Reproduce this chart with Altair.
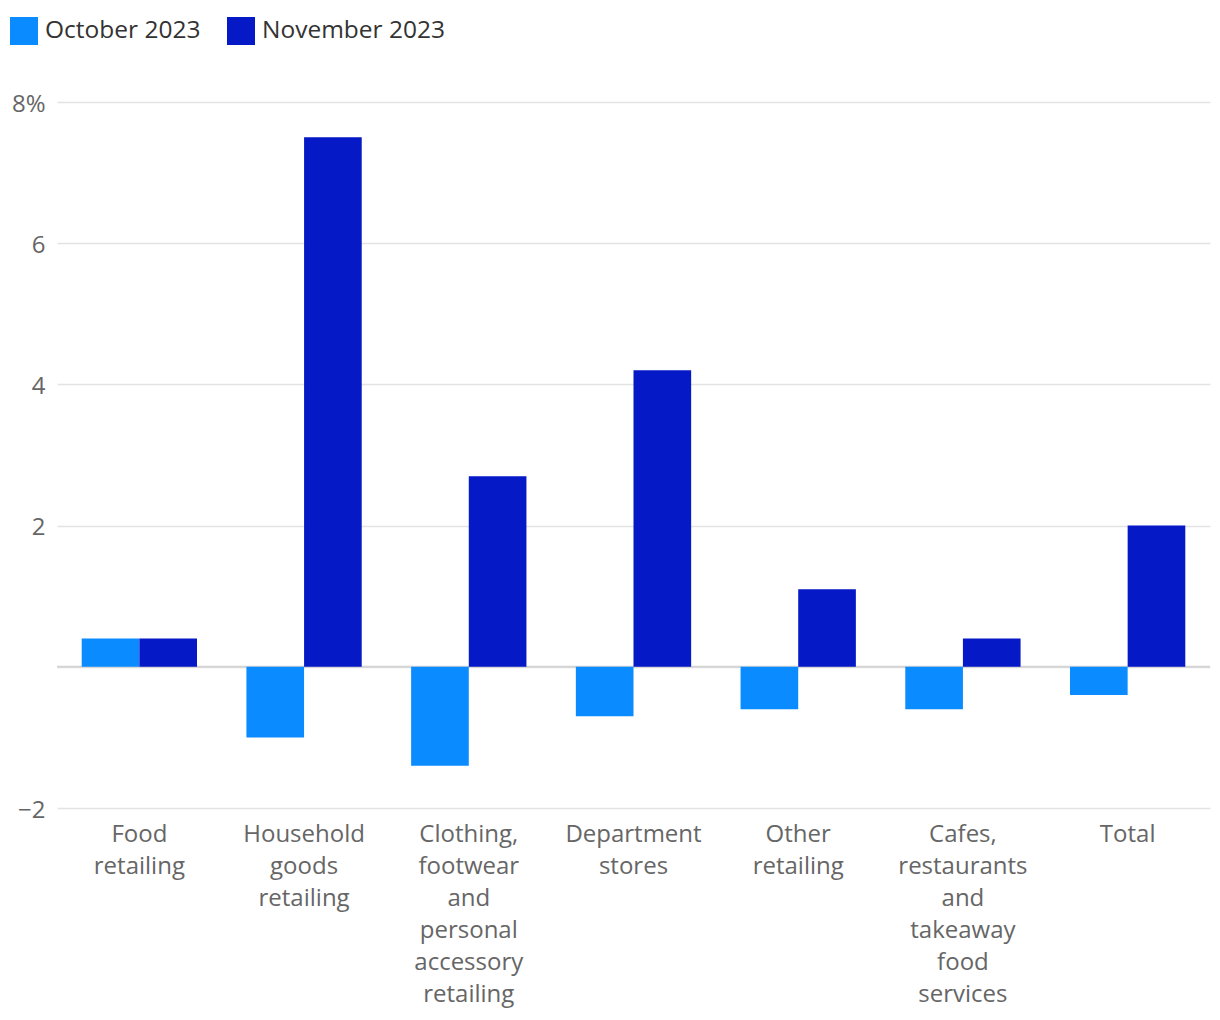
import altair as alt
import pandas as pd

categories = ["Food retailing", "Household goods retailing",
              "Clothing, footwear and personal accessory retailing",
              "Department stores", "Other retailing",
              "Cafes, restaurants and takeaway food services", "Total"]
series = ["October 2023", "November 2023"]
october = [0.4, -1.0, -1.4, -0.7, -0.6, -0.6, -0.4]
november = [0.4, 7.5, 2.7, 4.2, 1.1, 0.4, 2.0]
y_ticks = [-2, 0, 2, 4, 6, 8]
colors = ["#0A8BFF", "#0519C6"]

rows = []
for c, o, n in zip(categories, october, november):
    rows.append({"category": c, "series": series[0], "value": o})
    rows.append({"category": c, "series": series[1], "value": n})
df = pd.DataFrame(rows)

FONT = "Open Sans"

bars = alt.Chart(df).mark_bar().encode(
    x=alt.X("category:N", sort=categories, title=None,
            scale=alt.Scale(paddingInner=0.3, paddingOuter=0.15),
            axis=alt.Axis(labelAngle=0, labelExpr="split(datum.label, ' ')",
                          labelFontSize=24, labelColor="#666666", labelFont=FONT,
                          labelLineHeight=32, labelPadding=14, ticks=False,
                          domain=False, grid=False, labelBaseline="top", labelLimit=300)),
    xOffset=alt.XOffset("series:N", sort=series),
    y=alt.Y("value:Q", title=None,
            scale=alt.Scale(domain=[-2, 8], nice=False, zero=False),
            axis=alt.Axis(values=y_ticks,
                          labelExpr="datum.value == 8 ? '8%' : (datum.value == 0 ? '' : format(datum.value, 'd'))",
                          labelFontSize=24, labelColor="#666666", labelFont=FONT,
                          labelPadding=12, labelOffset=2, ticks=False, domain=False,
                          grid=True, gridColor="#e3e3e3", gridWidth=1.5)),
    color=alt.Color("series:N", sort=series,
                    scale=alt.Scale(domain=series, range=colors),
                    legend=alt.Legend(title=None, orient="none", direction="horizontal",
                                      legendX=-47, legendY=-85, symbolType="square",
                                      symbolSize=784, symbolStrokeWidth=0,
                                      symbolOffset=0, labelLimit=400,
                                      labelFontSize=24.5, labelColor="#333333",
                                      labelFont=FONT, labelOffset=7,
                                      columnPadding=26)),
)

zero = alt.Chart(pd.DataFrame({"v": [0]})).mark_rule(color="#d4d4d4", strokeWidth=2).encode(
    y=alt.Y("v:Q")
)

chart = alt.layer(zero, bars).properties(
    width=1153, height=706,
    padding={"left": 49, "top": 94, "right": 2, "bottom": 200},
    autosize=alt.AutoSizeParams(type="none"),
).configure_view(stroke=None).configure_axis(labelFont=FONT)

chart.save("out.html", embed_options={"renderer": "svg", "actions": False})
